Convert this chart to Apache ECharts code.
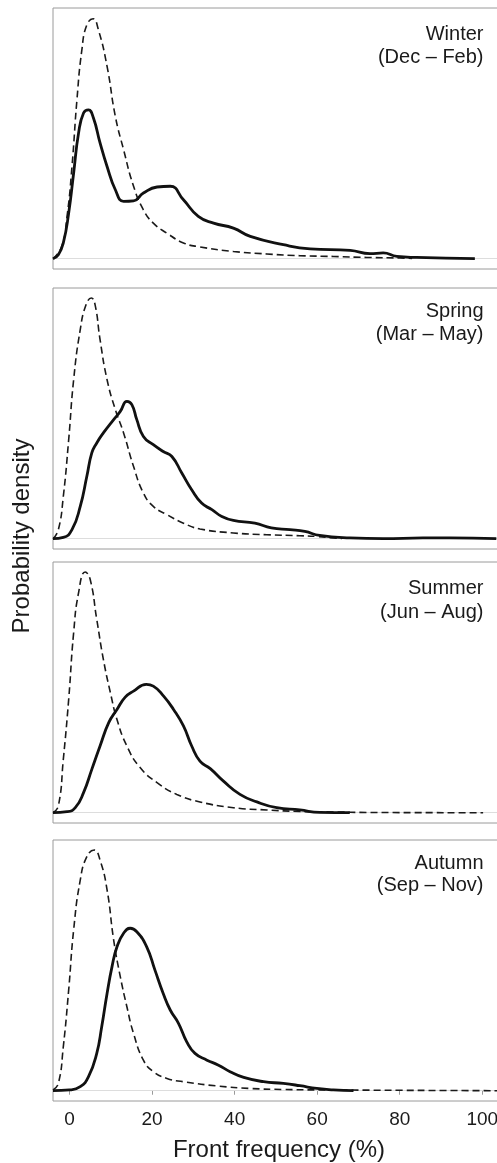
<!DOCTYPE html>
<html>
<head>
<meta charset="utf-8">
<script src="https://cdn.jsdelivr.net/npm/echarts@6/dist/echarts.min.js"></script>
<style>html,body{margin:0;padding:0;background:#fff}#c{width:497px;height:1163px}</style>
</head>
<body>
<div id="c"></div>
<script>
// ---- data ----
var seasons = ['Winter', 'Spring', 'Summer', 'Autumn'];
var months = ['(Dec \u2013 Feb)', '(Mar \u2013 May)', '(Jun \u2013 Aug)', '(Sep \u2013 Nov)'];
var xTicks = [0, 20, 40, 60, 80, 100];

// dashed curves [front frequency %, relative density]
var winterDashed = [[-4,0],[-1.9,0.049],[-0.6,0.169],[0.6,0.368],[1.8,0.634],[3.0,0.834],[4.2,0.933],[5.7,0.957],[7.0,0.913],[9.1,0.767],[11.1,0.568],[13.1,0.435],[15.5,0.29],[17.9,0.195],[20.3,0.142],[23.6,0.102],[27.6,0.063],[31.6,0.047],[39.7,0.029],[47.8,0.019],[55.8,0.012],[63.9,0.009],[72,0.005],[80,0.003],[83,0.001]];
var springDashed = [[-4,0],[-2.7,0.036],[-1.5,0.169],[-0.2,0.395],[1.0,0.634],[2.6,0.834],[4.0,0.933],[5.3,0.96],[6.2,0.933],[7.4,0.794],[9.1,0.634],[11.1,0.515],[13.1,0.422],[15.5,0.289],[17.9,0.182],[20.3,0.129],[23.6,0.096],[27.6,0.062],[31.6,0.039],[39.7,0.023],[47.8,0.016],[55.8,0.012],[59.9,0.009],[64,0.003],[66,0.001]];
var summerDashed = [[-4,0],[-2.7,0.027],[-1.5,0.213],[-0.2,0.452],[1.0,0.718],[2.2,0.878],[3.8,0.96],[5.0,0.931],[6.6,0.771],[8.2,0.612],[9.9,0.479],[11.5,0.372],[13.9,0.266],[17.1,0.18],[21.2,0.12],[26,0.073],[31.6,0.043],[39.7,0.02],[47.8,0.011],[55.8,0.005],[63.9,0.003],[72,0.001],[100.2,0]];
var autumnDashed = [[-4,0.003],[-2.7,0.029],[-1.5,0.176],[-0.2,0.402],[1.0,0.641],[2.6,0.84],[4.2,0.934],[6.0,0.96],[7.4,0.92],[9.1,0.801],[10.7,0.601],[12.3,0.455],[13.9,0.335],[15.5,0.229],[17.9,0.122],[20.3,0.076],[23.6,0.049],[27.6,0.036],[35.7,0.019],[43.8,0.009],[51.8,0.005],[63.9,0.003],[105,0]];

// solid curves
var winterSolid = [[-4,0],[-2.7,0.016],[-1.5,0.063],[-0.2,0.182],[1.0,0.342],[2.2,0.502],[3.4,0.581],[4.6,0.594],[5.8,0.561],[7.4,0.462],[9.1,0.368],[11.1,0.275],[13.1,0.229],[15.5,0.231],[17.9,0.262],[21.2,0.286],[24.4,0.289],[27.6,0.235],[31.2,0.169],[34.9,0.142],[39.7,0.122],[43.8,0.089],[51.8,0.056],[58.3,0.039],[68,0.033],[72.8,0.02],[76,0.023],[79.3,0.009],[84.1,0.005],[98.2,0]];
var springSolid = [[-4,0],[-1.5,0.005],[0.6,0.036],[2.6,0.129],[4.2,0.249],[5.4,0.342],[6.6,0.382],[8.2,0.422],[10.7,0.475],[12.3,0.508],[13.9,0.548],[15.1,0.535],[16.3,0.475],[17.9,0.408],[20.3,0.375],[22.7,0.348],[24.8,0.328],[27.2,0.262],[29.6,0.195],[32,0.142],[34.5,0.116],[36.9,0.089],[39.7,0.073],[44.9,0.062],[48.9,0.043],[53.4,0.036],[57,0.029],[60.6,0.013],[67.9,0.003],[76,0],[85.6,0.003],[92.1,0.003],[103.4,0]];
var summerSolid = [[-4,0],[-0.6,0.004],[1.4,0.02],[3.4,0.08],[5.4,0.173],[7.4,0.266],[9.5,0.359],[11.5,0.412],[13.5,0.461],[15.5,0.485],[18.6,0.512],[20.3,0.505],[22.8,0.465],[25.2,0.412],[27.6,0.346],[29.6,0.266],[31.6,0.206],[34.1,0.176],[37.3,0.126],[41.3,0.073],[45.4,0.043],[50.2,0.02],[55.8,0.011],[60.6,0.001],[67.9,0]];
var autumnSolid = [[-4,0],[0,0.003],[2.6,0.016],[4.6,0.056],[6.6,0.149],[7.8,0.255],[9.1,0.388],[10.3,0.495],[11.5,0.574],[13.1,0.628],[14.7,0.648],[16.3,0.634],[18.7,0.574],[20.7,0.481],[22.7,0.388],[24.4,0.322],[26.4,0.269],[28.4,0.195],[30.4,0.149],[33.3,0.122],[36.1,0.102],[38.9,0.076],[42.2,0.053],[47,0.036],[51.8,0.029],[55.8,0.02],[59.9,0.009],[63.9,0.003],[68.8,0]];

var dashedData = [winterDashed, springDashed, summerDashed, autumnDashed];
var solidData = [winterSolid, springSolid, summerSolid, autumnSolid];

// ---- layout ----
var FONT = '"Liberation Sans", Arial, Helvetica, sans-serif';
var panelTops = [8, 288, 562, 840];
var panelH = 261;
var labelY = [[34.3, 57], [311.3, 334], [588.5, 612.5], [863.5, 885.8]];

var grids = [], xAxes = [], yAxes = [], series = [], graphics = [];
for (var i = 0; i < 4; i++) {
  var last = (i === 3);
  grids.push({left: 53, width: 452, top: panelTops[i], height: panelH, show: true,
    outerBoundsMode: 'none',
    borderColor: '#9a9a9a', borderWidth: 1, backgroundColor: 'transparent', containLabel: false});
  xAxes.push({
    type: 'value', gridIndex: i, min: -4, max: 105.5, show: true,
    axisLine: {show: false},
    splitLine: {show: false},
    axisTick: {show: last, length: 4, inside: false, lineStyle: {color: '#9a9a9a', width: 1}, customValues: xTicks},
    axisLabel: {show: last, customValues: xTicks, fontSize: 19, color: '#1a1a1a', fontFamily: FONT, margin: 9, hideOverlap: false},
    name: last ? 'Front frequency (%)' : '',
    nameLocation: 'middle', nameGap: 37,
    nameTextStyle: {fontSize: 24, color: '#1a1a1a', fontFamily: FONT}
  });
  yAxes.push({type: 'value', gridIndex: i, min: -0.041, max: 1, show: false, splitLine: {show: false}});
  series.push({
    type: 'line', xAxisIndex: i, yAxisIndex: i, data: dashedData[i],
    showSymbol: false, symbol: 'none', smooth: 0.5, z: 3,
    lineStyle: {color: '#1a1a1a', width: 1.6, type: [7, 4]},
    markLine: {silent: true, symbol: ['none', 'none'], label: {show: false},
      lineStyle: {color: '#dddddd', width: 1, type: 'solid'}, data: [{yAxis: 0}], z: 1, animation: false}
  });
  series.push({
    type: 'line', xAxisIndex: i, yAxisIndex: i, data: solidData[i],
    showSymbol: false, symbol: 'none', smooth: 0.5, z: 4,
    lineStyle: {color: '#111111', width: 2.8, type: 'solid'}
  });
  graphics.push({type: 'text', x: 483.5, y: labelY[i][0], z: 10,
    style: {text: seasons[i], textAlign: 'right', textVerticalAlign: 'middle', font: '20px ' + FONT, fill: '#1a1a1a'}});
  graphics.push({type: 'text', x: 483.5, y: labelY[i][1], z: 10,
    style: {text: months[i], textAlign: 'right', textVerticalAlign: 'middle', font: '20px ' + FONT, fill: '#1a1a1a'}});
}
graphics.push({type: 'text', x: 22, y: 536, rotation: Math.PI / 2, z: 10,
  style: {text: 'Probability density', textAlign: 'center', textVerticalAlign: 'middle', font: '24px ' + FONT, fill: '#1a1a1a'}});

var chart = echarts.init(document.getElementById('c'), null, {renderer: 'canvas'});
chart.setOption({
  animation: false,
  backgroundColor: '#ffffff',
  grid: grids,
  xAxis: xAxes,
  yAxis: yAxes,
  series: series,
  graphic: graphics
});
</script>
</body>
</html>
